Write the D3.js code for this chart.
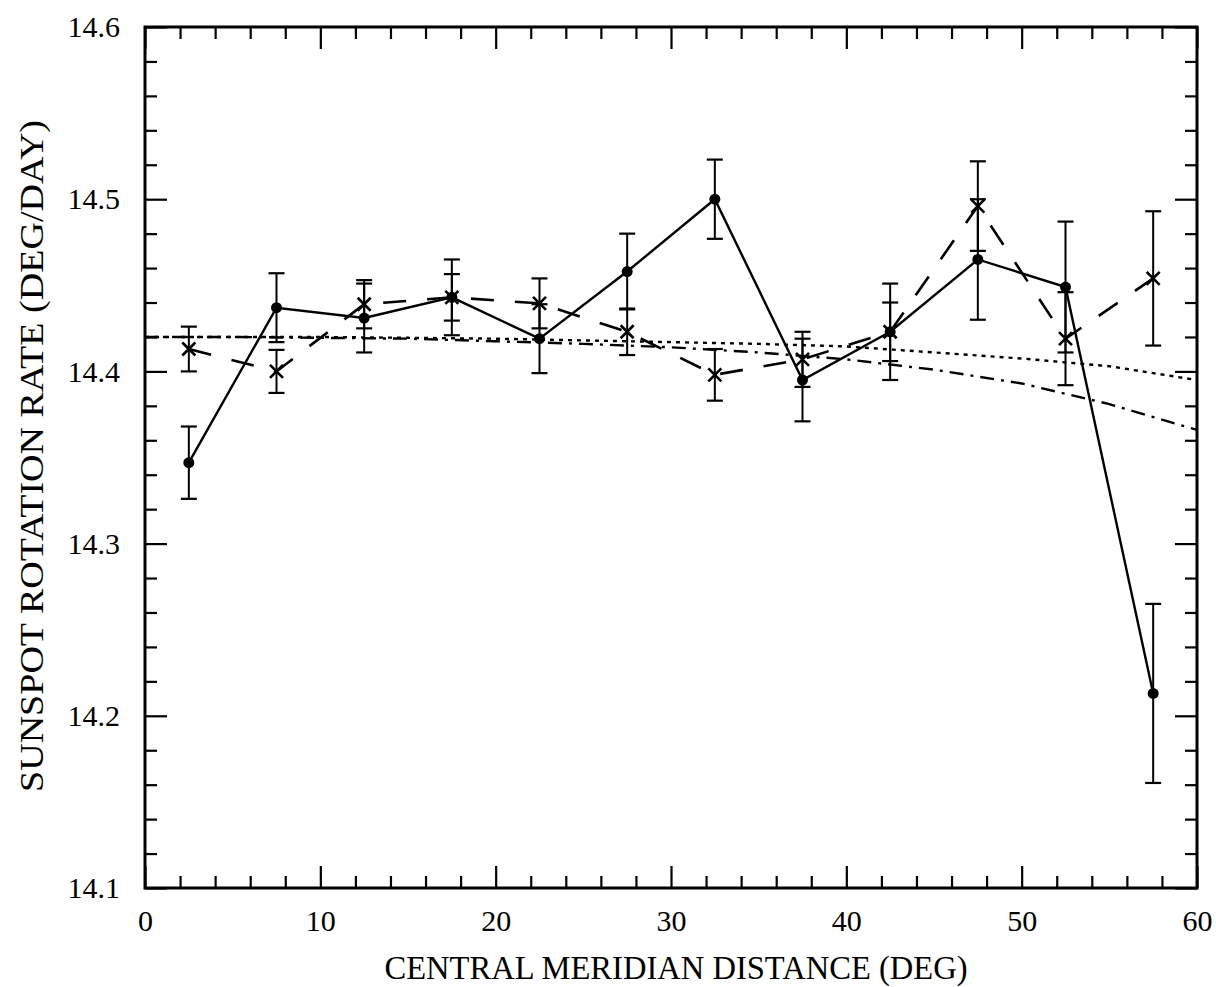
<!DOCTYPE html>
<html lang="en">
<head>
<meta charset="utf-8">
<title>Sunspot rotation rate</title>
<script src="https://d3js.org/d3.v7.min.js"></script>
<style>
  body { margin: 0; background: #fff; }
  svg { display: block; }
  text { font-family: "Liberation Serif", "DejaVu Serif", serif; fill: #000; }
</style>
</head>
<body>
<svg id="chart" width="1216" height="987"></svg>
<script>
// bin centres (deg)
var cmd = [2.5, 7.5, 12.5, 17.5, 22.5, 27.5, 32.5, 37.5, 42.5, 47.5, 52.5, 57.5]

// solid line, filled dots
var rateDots = [14.347, 14.437, 14.431, 14.443, 14.419, 14.458, 14.500, 14.395, 14.423, 14.465, 14.449, 14.213]
var errDots  = [0.021, 0.020, 0.020, 0.022, 0.020, 0.022, 0.023, 0.024, 0.028, 0.035, 0.038, 0.052]

// long dashed line, crosses
var rateCross = [14.413, 14.400, 14.439, 14.443, 14.4395, 14.423, 14.398, 14.407, 14.423, 14.496, 14.419, 14.454]
var errCross  = [0.013, 0.0125, 0.014, 0.0135, 0.0145, 0.0135, 0.015, 0.016, 0.017, 0.026, 0.027, 0.039]

// model curves
var curveX       = [0, 5, 10, 15, 20, 25, 30, 35, 40, 45, 50, 55, 60]
var curveDotted  = [14.420, 14.420, 14.420, 14.4195, 14.419, 14.418, 14.417, 14.416, 14.4145, 14.411, 14.4075, 14.403, 14.395]
var curveDashDot = [14.420, 14.420, 14.4195, 14.419, 14.4175, 14.416, 14.414, 14.411, 14.407, 14.401, 14.393, 14.381, 14.366]

var xMajor = [0, 10, 20, 30, 40, 50, 60]
var yMajor = [14.1, 14.2, 14.3, 14.4, 14.5, 14.6]

var plotL = 145, plotR = 1197, plotT = 27, plotB = 888

var x = d3.scaleLinear().domain([0, 60]).range([plotL, plotR])
var y = d3.scaleLinear().domain([14.1, 14.6]).range([plotB, plotT])

var svg = d3.select("#chart")

var xMinor = d3.range(0, 61, 2).filter(v => v % 10 !== 0)
var yMinor = d3.range(0, 26).map(i => +(14.1 + i * 0.02).toFixed(2)).filter(v => Math.round(v * 100) % 10 !== 0)

function addAxis(axis, tx, ty) {
  var g = svg.append("g")
    .attr("transform", "translate(" + tx + "," + ty + ")")
    .call(axis)
  g.select(".domain").remove()
  g.selectAll(".tick line").attr("stroke", "#000").attr("stroke-width", 2.2)
  g.selectAll("text").style("font-size", "30px").style("font-family", '"Liberation Serif", serif')
  return g
}

// major ticks with labels (bottom, left)
addAxis(d3.axisBottom(x).tickValues(xMajor).tickSize(-22).tickPadding(22).tickFormat(d3.format("d")), 0, plotB)
addAxis(d3.axisLeft(y).tickValues(yMajor).tickSize(-22).tickPadding(25).tickFormat(d3.format(".1f")), plotL, 0)
// major ticks without labels (top, right)
addAxis(d3.axisTop(x).tickValues(xMajor).tickSize(-22).tickFormat(""), 0, plotT)
addAxis(d3.axisRight(y).tickValues(yMajor).tickSize(-22).tickFormat(""), plotR, 0)
// minor ticks
addAxis(d3.axisBottom(x).tickValues(xMinor).tickSize(-12).tickFormat(""), 0, plotB)
addAxis(d3.axisTop(x).tickValues(xMinor).tickSize(-12).tickFormat(""), 0, plotT)
addAxis(d3.axisLeft(y).tickValues(yMinor).tickSize(-12).tickFormat(""), plotL, 0)
addAxis(d3.axisRight(y).tickValues(yMinor).tickSize(-12).tickFormat(""), plotR, 0)

// frame
svg.append("rect")
  .attr("x", plotL).attr("y", plotT)
  .attr("width", plotR - plotL).attr("height", plotB - plotT)
  .attr("fill", "none").attr("stroke", "#000").attr("stroke-width", 3)

// titles
svg.append("text")
  .attr("x", 676).attr("y", 979)
  .attr("text-anchor", "middle")
  .attr("textLength", 583).attr("lengthAdjust", "spacingAndGlyphs")
  .style("font-size", "33px")
  .text("CENTRAL MERIDIAN DISTANCE (DEG)")

svg.append("text")
  .attr("transform", "translate(43,456) rotate(-90)")
  .attr("text-anchor", "middle")
  .attr("textLength", 672).attr("lengthAdjust", "spacingAndGlyphs")
  .style("font-size", "34px")
  .text("SUNSPOT ROTATION RATE (DEG/DAY)")

var line = d3.line().x(d => x(d[0])).y(d => y(d[1]))
var plot = svg.append("g")

// model curves
plot.append("path")
  .datum(curveX.map((v, i) => [v, curveDotted[i]]))
  .attr("d", line)
  .attr("fill", "none").attr("stroke", "#000").attr("stroke-width", 2.4)
  .attr("stroke-dasharray", "4,5")

plot.append("path")
  .datum(curveX.map((v, i) => [v, curveDashDot[i]]))
  .attr("d", line)
  .attr("fill", "none").attr("stroke", "#000").attr("stroke-width", 2.4)
  .attr("stroke-dasharray", "14,7,3,7")

// data lines
plot.append("path")
  .datum(cmd.map((v, i) => [v, rateCross[i]]))
  .attr("d", line)
  .attr("fill", "none").attr("stroke", "#000").attr("stroke-width", 2.6)
  .attr("stroke-dasharray", "23,21")

plot.append("path")
  .datum(cmd.map((v, i) => [v, rateDots[i]]))
  .attr("d", line)
  .attr("fill", "none").attr("stroke", "#000").attr("stroke-width", 2.4)

// error bars
function errorBars(vals, errs) {
  var g = plot.append("g").selectAll("g")
    .data(cmd.map((v, i) => ({x: v, y: vals[i], e: errs[i]})))
    .join("g")
  g.append("line")
    .attr("x1", d => x(d.x)).attr("x2", d => x(d.x))
    .attr("y1", d => y(d.y - d.e)).attr("y2", d => y(d.y + d.e))
    .attr("stroke", "#000").attr("stroke-width", 2)
  ;[1, -1].forEach(function(s) {
    g.append("line")
      .attr("x1", d => x(d.x) - 8).attr("x2", d => x(d.x) + 8)
      .attr("y1", d => y(d.y + s * d.e)).attr("y2", d => y(d.y + s * d.e))
      .attr("stroke", "#000").attr("stroke-width", 2.2)
  })
}
errorBars(rateDots, errDots)
errorBars(rateCross, errCross)

// markers
plot.append("g").selectAll("circle")
  .data(cmd.map((v, i) => [v, rateDots[i]]))
  .join("circle")
  .attr("cx", d => x(d[0])).attr("cy", d => y(d[1]))
  .attr("r", 5.5).attr("fill", "#000")

var cs = 6.5
plot.append("g").selectAll("path")
  .data(cmd.map((v, i) => [v, rateCross[i]]))
  .join("path")
  .attr("d", function(d) {
    var px = x(d[0]), py = y(d[1])
    return "M" + (px - cs) + "," + (py - cs) + "L" + (px + cs) + "," + (py + cs) +
           "M" + (px - cs) + "," + (py + cs) + "L" + (px + cs) + "," + (py - cs)
  })
  .attr("stroke", "#000").attr("stroke-width", 2.6).attr("fill", "none")
</script>
</body>
</html>
